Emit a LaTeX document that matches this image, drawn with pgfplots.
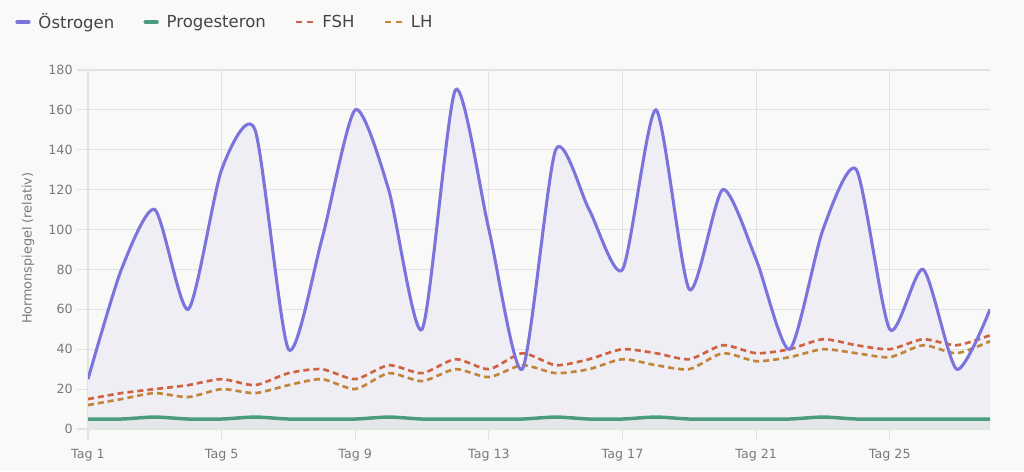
\documentclass[border=0pt]{standalone}
\usepackage{pgfplots}
\pgfplotsset{compat=1.18}
\usepackage{pgfplotstable}
\usepackage{fontspec}
\setmainfont{DejaVu Sans}
\definecolor{bg}{HTML}{F9F9F8}
\definecolor{gridc}{HTML}{E2E2E2}
\definecolor{tickc}{HTML}{7A7A7A}
\definecolor{legc}{HTML}{454545}
\definecolor{ostc}{HTML}{7B74DC}
\definecolor{ostf}{HTML}{EFEEF5}
\definecolor{proc}{HTML}{4B9C7F}
\definecolor{prof}{HTML}{E3E7E9}
\definecolor{fshc}{HTML}{D1623F}
\definecolor{lhc}{HTML}{C2853A}
\pgfplotstableread{
d E P F L
0 25 5 15 12
1 80 5 18 15
2 110 6 20 18
3 60 5 22 16
4 130 5 25 20
5 150 6 22 18
6 40 5 28 22
7 95 5 30 25
8 160 5 25 20
9 120 6 32 28
10 50 5 28 24
11 170 5 35 30
12 100 5 30 26
13 30 5 38 32
14 140 6 32 28
15 110 5 35 30
16 80 5 40 35
17 160 6 38 32
18 70 5 35 30
19 120 5 42 38
20 85 5 38 34
21 40 5 40 36
22 100 6 45 40
23 130 5 42 38
24 50 5 40 36
25 80 5 45 42
26 30 5 42 38
27 60 5 47 44
}\data
\pgfplotsset{
  solidleg/.style={legend image code/.code={\draw[##1] (0pt,0pt) -- (8.5pt,0pt);}},
  dashleg/.style={legend image code/.code={\draw[##1] (-1.5pt,0pt) -- (11pt,0pt);}},
}
\begin{document}
\begin{tikzpicture}
\fill[bg] (0,0) rectangle (768pt,353.25pt);
\useasboundingbox (0,0) rectangle (768pt,353.25pt);
\begin{axis}[
  at={(66pt,31.5pt)}, anchor=south west,
  scale only axis, width=676.5pt, height=269.25pt,
  xmin=0, xmax=27, ymin=0, ymax=180,
  xtick={0,4,...,24},
  xticklabels={Tag 1,Tag 5,Tag 9,Tag 13,Tag 17,Tag 21,Tag 25},
  ytick={0,20,...,180},
  grid=major,
  grid style={gridc, line width=0.8pt},
  axis line style={draw=none},
  tick align=outside, tick pos=left,
  major tick length=8pt,
  tick style={gridc, line width=0.8pt},
  /pgf/number format/assume math mode=true,
  ticklabel style={font=\fontsize{9.5}{11}\selectfont, text=tickc},
  xticklabel style={yshift=-3.5pt},
  ylabel={Hormonspiegel (relativ)},
  ylabel style={at={(axis description cs:-0.0665,0.503)}, anchor=center, font=\fontsize{9.6}{11}\selectfont, text=tickc},
  legend style={at={(-0.0809,1.1337)}, anchor=west, draw=none, fill=none, inner sep=0pt,
    nodes={inner sep=0pt, font=\fontsize{12.4}{14}\selectfont, text=legc},
    legend columns=-1, column sep=0pt},
  /tikz/every odd column/.append style={column sep=5.9pt},
  /tikz/every even column/.append style={column sep=21.9pt},
]
\addlegendimage{ostc, line width=3pt, line cap=round, solidleg}
\addlegendentry{Östrogen}
\addlegendimage{proc, line width=3pt, line cap=round, solidleg}
\addlegendentry{Progesteron}
\addlegendimage{fshc, line width=2pt, dash pattern=on 4.5pt off 3.5pt, dashleg}
\addlegendentry{FSH}
\addlegendimage{lhc, line width=2pt, dash pattern=on 4.5pt off 3.5pt, dashleg}
\addlegendentry{LH}
\addplot[forget plot, draw=none, fill=ostf, smooth, tension=0.42] table[x=d,y=E]{\data} \closedcycle;
\addplot[forget plot, draw=none, fill=prof, smooth, tension=0.42] table[x=d,y=P]{\data} \closedcycle;
\addplot[forget plot, lhc, line width=2pt, dash pattern=on 4.5pt off 3pt, smooth, tension=0.42] table[x=d,y=L]{\data};
\addplot[forget plot, fshc, line width=2pt, dash pattern=on 4.5pt off 3pt, smooth, tension=0.42] table[x=d,y=F]{\data};
\addplot[forget plot, proc, line width=2.6pt, smooth, tension=0.42] table[x=d,y=P]{\data};
\addplot[forget plot, ostc, line width=2.3pt, smooth, tension=0.42] table[x=d,y=E]{\data};
\end{axis}
\end{tikzpicture}
\end{document}
